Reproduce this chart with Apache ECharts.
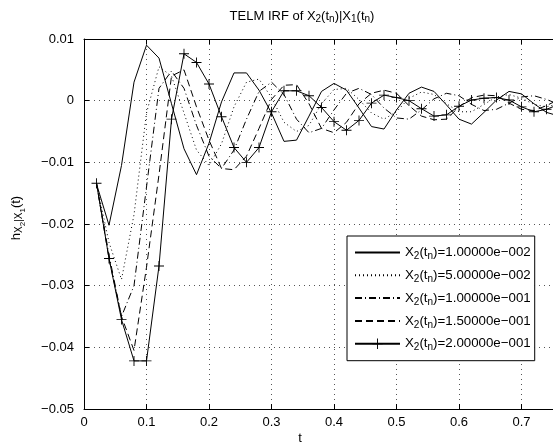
<!DOCTYPE html>
<html><head><meta charset="utf-8">
<script src="https://cdn.jsdelivr.net/npm/echarts@6/dist/echarts.min.js"></script>
<style>html,body{margin:0;padding:0;background:#fff}#c{width:553px;height:448px}</style>
</head><body><div id="c"></div>
<script>
const tValues = [0.02,0.04,0.06,0.08,0.10,0.12,0.14,0.16,0.18,0.20,0.22,0.24,0.26,0.28,0.30,0.32,0.34,0.36,0.38,0.40,0.42,0.44,0.46,0.48,0.50,0.52,0.54,0.56,0.58,0.60,0.62,0.64,0.66,0.68,0.70,0.72,0.74,0.76,0.78,0.80];
const seriesNames = ['1.00000e\u2212002','5.00000e\u2212002','1.00000e\u2212001','1.50000e\u2212001','2.00000e\u2212001'];
const h001 = [-0.0135,-0.0202,-0.0105,0.0030,0.0090,0.0069,-0.0005,-0.0078,-0.0120,-0.0069,-0.0002,0.0045,0.0045,0.0017,-0.0020,-0.0066,-0.0064,-0.0025,0.0015,0.0028,0.0017,-0.0012,-0.0042,-0.0046,-0.0015,0.0012,0.0022,0.0015,-0.0007,-0.0030,-0.0038,-0.0019,0.0001,0.0015,0.0011,-0.0005,-0.0019,-0.0025,-0.0014,0.0000];
const h005 = [-0.0134,-0.0230,-0.0290,-0.0185,-0.0020,0.0055,0.0040,-0.0020,-0.0080,-0.0105,-0.0070,-0.0010,0.0030,0.0035,0.0005,-0.0035,-0.0050,-0.0040,-0.0005,0.0018,0.0020,0.0002,-0.0020,-0.0030,-0.0018,0.0004,0.0014,0.0010,-0.0005,-0.0018,-0.0018,-0.0006,0.0006,0.0010,0.0004,-0.0006,-0.0010,-0.0005,0.0003,0.0005];
const h010 = [-0.0134,-0.0250,-0.0350,-0.0300,-0.0140,0.0020,0.0048,0.0020,-0.0040,-0.0090,-0.0110,-0.0080,-0.0030,0.0015,0.0030,0.0010,-0.0030,-0.0052,-0.0045,-0.0015,0.0012,0.0020,0.0010,-0.0012,-0.0028,-0.0030,-0.0015,0.0003,0.0012,0.0008,-0.0006,-0.0016,-0.0014,-0.0004,0.0006,0.0008,0.0002,-0.0006,-0.0008,-0.0003];
const h015 = [-0.0134,-0.0256,-0.0350,-0.0405,-0.0270,-0.0120,0.0040,0.0050,-0.0010,-0.0064,-0.0110,-0.0112,-0.0090,-0.0045,0.0002,0.0025,0.0026,-0.0005,-0.0045,-0.0052,-0.0035,-0.0005,0.0012,0.0017,0.0012,-0.0008,-0.0025,-0.0031,-0.0030,-0.0010,0.0005,0.0009,0.0008,-0.0004,-0.0014,-0.0016,-0.0008,0.0002,0.0005,0.0002];
const h020 = [-0.0134,-0.0256,-0.0355,-0.0422,-0.0422,-0.0268,-0.0030,0.0076,0.0062,0.0027,-0.0026,-0.0076,-0.0100,-0.0076,-0.0018,0.0016,0.0016,0.0008,-0.0011,-0.0034,-0.0048,-0.0032,-0.0004,0.0009,0.0005,0.0000,-0.0013,-0.0025,-0.0023,-0.0009,0.0001,0.0004,0.0005,0.0001,-0.0010,-0.0018,-0.0014,-0.0006,0.0001,0.0003];

const FONT = 'Liberation Sans';
const allData = [h001,h005,h010,h015,h020];
const lineTypes = ['solid',[1,3],[7,3,1,3],[7,4],'solid'];
const plusPath = 'path://M-1,-0.09L1,-0.09L1,0.09L-1,0.09Z M-0.09,-1L0.09,-1L0.09,1L-0.09,1Z';

const series = allData.map((arr,i)=>({
  name: 'X{s|2}(t{s|n})=' + seriesNames[i],
  type: 'line',
  data: tValues.map((t,j)=>[t, arr[j]]),
  showSymbol: i===4,
  symbol: plusPath,
  symbolSize: 10,
  itemStyle: {color:'#000', borderWidth:0},
  lineStyle: {color:'#000', width:1, type: lineTypes[i]},
  emphasis: {disabled:true},
  animation: false,
  z: 3
}));

const chart = echarts.init(document.getElementById('c'));
const fmtY = v => v===0 ? '0' : (v<0?'\u2212':'') + Math.abs(v).toFixed(2);
chart.setOption({
  animation:false,
  backgroundColor:'#fff',
  grid:{left:84, top:39, width:500, height:370, containLabel:false, outerBoundsMode:'none'},
  xAxis:[{
    type:'value', min:0, max:0.8, interval:0.1,
    axisLine:{show:true, onZero:false, lineStyle:{color:'#000', width:1}},
    axisTick:{show:true, inside:true, length:5, lineStyle:{color:'#000'}},
    axisLabel:{color:'#000', fontFamily:FONT, fontSize:13, margin:7, formatter:v=>v===0?'0':(v>0.75?'':(+v.toFixed(1)).toString())},
    splitLine:{show:true, lineStyle:{color:'#555', type:[1,4], width:1}}
  },{
    type:'value', min:0, max:0.8, interval:0.1, position:'top',
    axisLine:{show:true, onZero:false, lineStyle:{color:'#000', width:1}},
    axisTick:{show:true, inside:true, length:5, lineStyle:{color:'#000'}},
    axisLabel:{show:false}, splitLine:{show:false}
  }],
  yAxis:[{
    type:'value', min:-0.05, max:0.01, interval:0.01,
    axisLine:{show:true, onZero:false, lineStyle:{color:'#000', width:1}},
    axisTick:{show:true, inside:true, length:5, lineStyle:{color:'#000'}},
    axisLabel:{color:'#000', fontFamily:FONT, fontSize:13, margin:10, formatter:fmtY},
    splitLine:{show:true, lineStyle:{color:'#555', type:[1,4], width:1}}
  }],
  legend:{
    orient:'vertical', left:347, top:236,
    width:200,
    backgroundColor:'#fff', borderColor:'#000', borderWidth:1,
    padding:[10,4,8,7], itemGap:7.3, itemWidth:45, itemHeight:13,
    textStyle:{color:'#000', fontFamily:FONT, fontSize:13.3, rich:{s:{fontSize:10, padding:[8,0,0,0]}}},
    data: series.map((s,i)=> i===4 ? {name:s.name} : {name:s.name, itemStyle:{opacity:0}}),
    selectedMode:false
  },
  graphic:[
    {type:'text', x:302, y:16, style:{text:'TELM IRF of X{s|2}(t{s|n})|X{s|1}(t{s|n})', align:'center', verticalAlign:'middle', fill:'#000', font:'13px '+FONT,
      rich:{s:{fontSize:10, fontFamily:FONT, padding:[7,0,0,0]}}}},
    {type:'text', x:300, y:438, style:{text:'t', align:'center', verticalAlign:'middle', fill:'#000', font:'13px '+FONT}},
    {type:'text', x:16, y:218, rotation:Math.PI/2, style:{text:'h{a|X}{b|2}{a||X}{b|1}(t)', align:'center', verticalAlign:'middle', fill:'#000', font:'13px '+FONT,
      rich:{a:{fontSize:10, fontFamily:FONT, padding:[7,0,0,0]}, b:{fontSize:8, fontFamily:FONT, padding:[13,0,0,0]}}}}
  ],
  series: series
});
</script></body></html>
